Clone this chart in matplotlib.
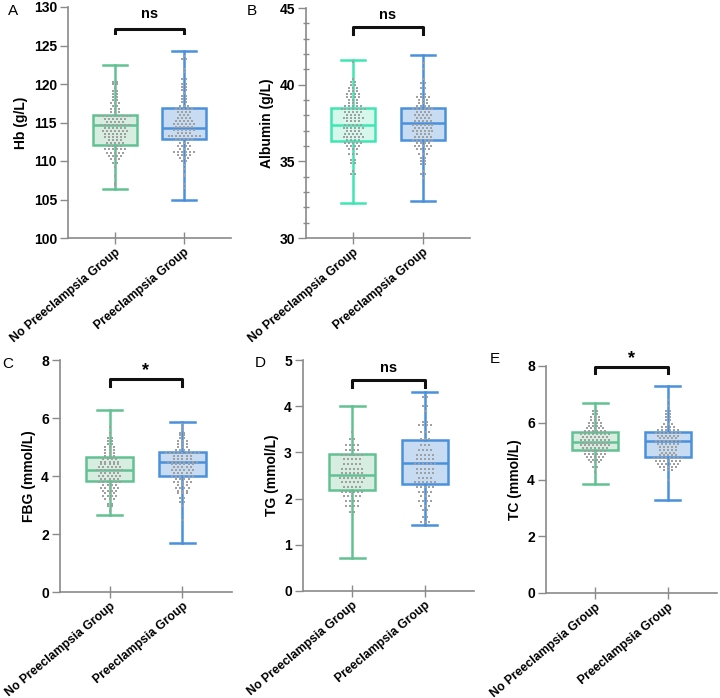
import numpy as np
import matplotlib.pyplot as plt
from matplotlib.ticker import MultipleLocator

plt.rcParams['font.family'] = ['Liberation Sans', 'DejaVu Sans']

groups = ['No Preeclampsia Group', 'Preeclampsia Group']

# box stats: (min, q1, median, q3, max)
hb_box = [(106.4, 112.1, 114.7, 115.95, 122.45), (105.0, 112.8, 114.3, 116.9, 124.3)]
alb_box = [(32.28, 36.34, 37.35, 38.47, 41.6), (32.4, 36.4, 37.48, 38.47, 41.92)]
fbg_box = [(2.65, 3.84, 4.22, 4.64, 6.29), (1.69, 4.0, 4.47, 4.83, 5.87)]
tg_box = [(0.72, 2.18, 2.51, 2.96, 4.0), (1.43, 2.32, 2.78, 3.27, 4.3)]
tc_box = [(3.83, 5.05, 5.33, 5.68, 6.69), (3.28, 4.79, 5.34, 5.67, 7.29)]

# individual points: row levels and number of dots in each row
hb_pts = [
    ([106.9, 107.2, 108.0, 109.2, 109.7, 110.3, 110.7, 111.1, 111.5, 111.9, 112.3, 112.7, 113.1, 113.5,
      113.9, 114.3, 114.7, 115.1, 115.5, 115.9, 116.3, 116.7, 117.1, 117.5, 117.9, 118.3, 118.7, 119.1,
      119.5, 120.0, 120.3],
     [1, 1, 1, 1, 2, 3, 4, 5, 6, 4, 5, 4, 6, 6, 7, 6, 8, 5, 6, 9, 3, 3, 2, 3, 2, 2, 2, 2, 1, 2, 2]),
    ([106.5, 107.0, 108.0, 108.3, 109.0, 109.5, 110.0, 110.4, 110.8, 111.2, 111.6, 112.0, 112.4, 112.8,
      113.2, 113.6, 114.0, 114.4, 114.8, 115.2, 115.6, 116.0, 116.4, 116.8, 117.2, 117.6, 118.0, 118.4,
      118.8, 119.2, 119.6, 120.0, 120.6, 121.5, 122.0, 123.3, 123.6],
     [1, 1, 1, 1, 1, 1, 2, 3, 4, 6, 3, 4, 3, 5, 9, 4, 6, 5, 6, 5, 4, 3, 4, 5, 3, 2, 2, 2, 1, 2, 2, 2, 2,
      1, 1, 2, 1]),
]
alb_pts = [
    ([34.2, 34.4, 34.9, 35.1, 35.5, 35.8, 36.0, 36.2, 36.4, 36.6, 36.8, 37.0, 37.2, 37.4, 37.6, 37.8,
      38.0, 38.2, 38.4, 38.6, 38.8, 39.0, 39.2, 39.4, 39.6, 39.8, 40.0, 40.2, 40.4, 41.5],
     [2, 1, 2, 2, 3, 3, 4, 5, 4, 6, 5, 4, 6, 5, 4, 6, 4, 5, 7, 5, 3, 3, 4, 4, 3, 3, 2, 2, 1, 1]),
    ([33.9, 34.2, 34.4, 34.8, 35.0, 35.2, 35.5, 35.8, 36.0, 36.2, 36.4, 36.6, 36.8, 37.0, 37.2, 37.4,
      37.6, 37.8, 38.0, 38.2, 38.4, 38.6, 38.8, 39.0, 39.2, 39.4, 39.8, 40.1, 40.4, 41.0, 41.4],
     [1, 2, 1, 2, 2, 2, 3, 4, 5, 4, 6, 5, 4, 6, 5, 6, 5, 4, 5, 4, 6, 4, 3, 3, 4, 2, 2, 2, 1, 1, 1]),
]
fbg_pts = [
    ([2.8, 2.95, 3.05, 3.2, 3.3, 3.4, 3.5, 3.6, 3.7, 3.8, 3.9, 4.0, 4.1, 4.2, 4.3, 4.4, 4.5, 4.6, 4.7,
      4.8, 4.9, 5.0, 5.1, 5.2, 5.3, 5.5, 5.7],
     [1, 2, 2, 3, 4, 3, 4, 5, 4, 6, 5, 6, 5, 7, 6, 5, 5, 4, 3, 3, 3, 3, 2, 2, 2, 1, 1]),
    ([2.5, 2.95, 3.1, 3.25, 3.4, 3.5, 3.6, 3.7, 3.8, 3.9, 4.0, 4.1, 4.2, 4.3, 4.4, 4.5, 4.6, 4.7, 4.8,
      4.9, 5.0, 5.1, 5.2, 5.3, 5.4, 5.5, 5.6, 5.7, 5.8],
     [1, 1, 2, 2, 3, 3, 4, 3, 5, 4, 6, 5, 6, 5, 6, 8, 5, 5, 9, 4, 3, 3, 3, 2, 2, 2, 1, 1, 1]),
]
tg_pts = [
    ([1.7, 1.85, 1.95, 2.05, 2.15, 2.25, 2.35, 2.45, 2.55, 2.65, 2.75, 2.85, 2.95, 3.05, 3.15, 3.3, 3.45],
     [2, 4, 4, 5, 6, 5, 6, 7, 6, 6, 5, 5, 6, 4, 4, 2, 1]),
    ([1.5, 1.6, 1.75, 1.85, 1.95, 2.05, 2.15, 2.25, 2.35, 2.45, 2.55, 2.65, 2.75, 2.85, 2.95, 3.05,
      3.15, 3.3, 3.45, 3.6, 3.65, 3.9, 4.0, 4.2],
     [3, 2, 2, 3, 4, 3, 4, 5, 6, 4, 5, 5, 6, 5, 5, 4, 3, 3, 3, 4, 2, 1, 2, 2]),
]
tc_pts = [
    ([4.25, 4.45, 4.6, 4.7, 4.8, 4.9, 5.0, 5.1, 5.2, 5.3, 5.4, 5.5, 5.6, 5.7, 5.8, 5.9, 6.0, 6.1, 6.2,
      6.3, 6.4],
     [1, 2, 3, 4, 5, 6, 6, 7, 8, 7, 8, 7, 8, 6, 5, 4, 4, 3, 3, 2, 2]),
    ([4.0, 4.35, 4.45, 4.55, 4.65, 4.75, 4.85, 4.95, 5.05, 5.15, 5.25, 5.35, 5.45, 5.55, 5.65, 5.75,
      5.85, 5.95, 6.1, 6.2, 6.3, 6.4, 6.6, 6.8],
     [1, 3, 5, 6, 7, 8, 5, 4, 5, 5, 6, 7, 5, 6, 7, 6, 4, 3, 2, 2, 2, 2, 1, 1]),
]

green = ('#62c193', '#d6ede0')
mint = ('#3ee6b2', '#d6f7eb')
blue = ('#4a90da', '#c7dbf3')
axis_gray = '#8a8a8a'

fig = plt.figure(figsize=(7.2, 6.98), dpi=100)


def px_axes(l, t, r, b):
    return fig.add_axes([l / 720, 1 - b / 698, (r - l) / 720, (b - t) / 698])


def panel(ax, box, pts, colors, ylim, step, ylabel, sig, bracket, minor=None):
    for i, (st, (fc_edge, fc_fill)) in enumerate(zip(box, colors)):
        lo, q1, med, q3, hi = st
        stats = [dict(whislo=lo, q1=q1, med=med, q3=q3, whishi=hi)]
        line = dict(color=fc_edge, linewidth=1.8)
        ax.bxp(stats, positions=[i + 1], widths=0.64, capwidths=0.34, patch_artist=True,
               showfliers=False, boxprops=dict(facecolor=fc_fill, edgecolor=fc_edge, linewidth=1.8),
               medianprops=line, whiskerprops=line, capprops=line, zorder=2)
    # dots laid out in horizontal rows, like the original scatter
    dx = 0.056
    for i, (levels, counts) in enumerate(pts):
        xs, ys = [], []
        for lv, n in zip(levels, counts):
            for k in range(n):
                xs.append(i + 1 + (k - (n - 1) / 2) * dx)
                ys.append(lv)
        ax.scatter(xs, ys, s=3, marker='s', color='#a0a0a0', linewidths=0, zorder=3)

    ax.set_xlim(0.32, 2.68)
    ax.set_ylim(*ylim)
    ax.yaxis.set_major_locator(MultipleLocator(step))
    if minor:
        ax.yaxis.set_minor_locator(MultipleLocator(minor))
        ax.tick_params(axis='y', which='minor', direction='inout', length=5, width=1, color=axis_gray)
    ax.set_xticks([1, 2])
    ax.set_xticklabels(groups, rotation=40, ha='right', rotation_mode='anchor',
                       fontsize=8.8, fontweight='bold')
    ax.tick_params(axis='x', direction='inout', length=8, width=1, color=axis_gray, pad=2)
    ax.tick_params(axis='y', which='major', direction='out', length=6, width=1, color=axis_gray,
                   labelsize=10, pad=2)
    for lab in ax.get_yticklabels():
        lab.set_fontweight('bold')
    ax.set_ylabel(ylabel, fontsize=10, fontweight='bold', labelpad=4)
    for s in ['top', 'right']:
        ax.spines[s].set_visible(False)
    for s in ['left', 'bottom']:
        ax.spines[s].set_color(axis_gray)
        ax.spines[s].set_linewidth(1.2)

    top, leg, ty = bracket
    ax.plot([1, 1, 2, 2], [leg, top, top, leg], color='#111111', lw=2.2, clip_on=False, zorder=4)
    if sig == '*':
        ax.text(1.5, ty, sig, ha='center', va='center', fontsize=13, fontweight='bold')
    else:
        ax.text(1.5, ty, sig, ha='center', va='center', fontsize=10.5, fontweight='bold')


axA = px_axes(68, 7, 231, 238)
panel(axA, hb_box, hb_pts, [green, blue], (100, 130), 5, 'Hb (g/L)', 'ns', (127.15, 126.6, 129.1))
axB = px_axes(306, 8, 470, 238)
panel(axB, alb_box, alb_pts, [mint, blue], (30, 45), 5, 'Albumin (g/L)', 'ns', (43.75, 43.3, 44.55),
      minor=1)
axC = px_axes(60, 360, 232, 592)
panel(axC, fbg_box, fbg_pts, [green, blue], (0, 8), 2, 'FBG (mmol/L)', '*', (7.36, 7.11, 7.62))
axD = px_axes(303, 360, 474, 591)
panel(axD, tg_box, tg_pts, [green, blue], (0, 5), 1, 'TG (mmol/L)', 'ns', (4.57, 4.42, 4.83))
axE = px_axes(546, 366, 717, 593)
panel(axE, tc_box, tc_pts, [green, blue], (0, 8), 2, 'TC (mmol/L)', '*', (7.98, 7.74, 8.25))

for letter, (x, y) in zip('ABCDE', [(8, 4), (247, 4), (2, 357), (255, 356), (490, 352)]):
    fig.text(x / 720, 1 - y / 698, letter, fontsize=11, ha='left', va='top')

fig.savefig('out.png', dpi=100)
